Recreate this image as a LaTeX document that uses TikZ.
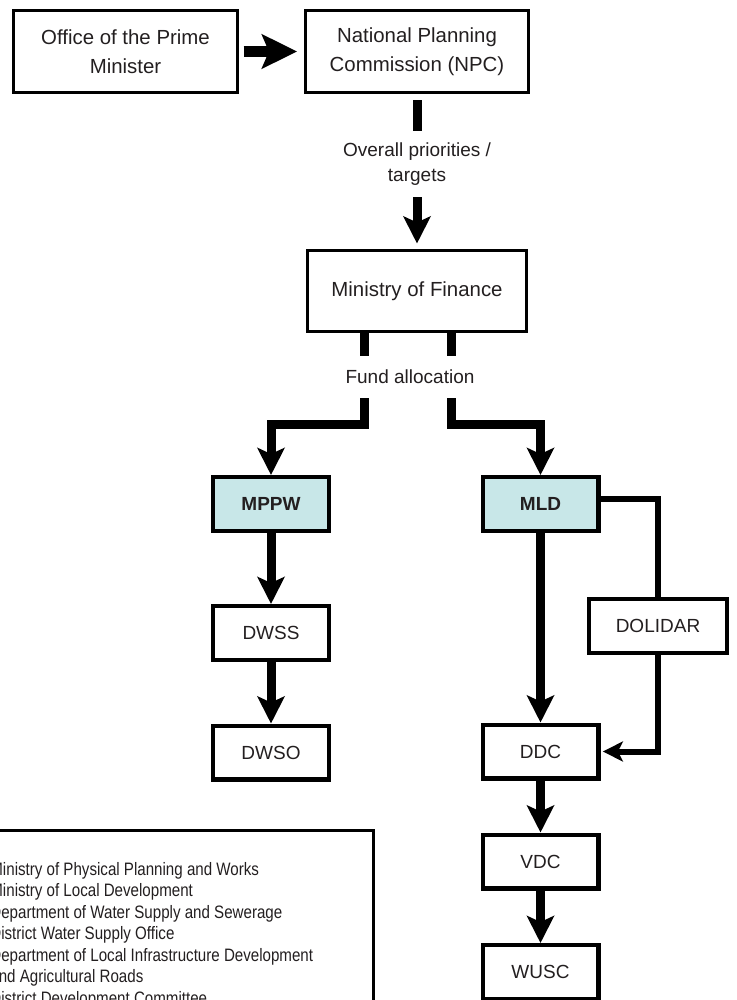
\documentclass[tikz,border=0pt]{standalone}
\usepackage{fontspec}
\setmainfont{Liberation Sans}
\newfontfamily\narrowsans[FakeStretch=0.84]{Liberation Sans}
\usetikzlibrary{arrows.meta,positioning}
\definecolor{boxtext}{HTML}{231F20}
\definecolor{minfill}{HTML}{C8E7E8}

\begin{document}
\begin{tikzpicture}[x=0.5pt,y=-0.5pt,>={Stealth[length=13.5pt,width=13.5pt,inset=3pt]},line join=miter,
    top box/.style={draw,line width=1.6pt,minimum width=111.8pt,minimum height=40.8pt,align=center,text=boxtext,font=\fontsize{10.2}{14.5}\selectfont},
    unit box/.style={draw,line width=2.2pt,minimum width=57.8pt,minimum height=26.8pt,text=boxtext,font=\fontsize{9.5}{12}\selectfont},
    ministry box/.style={unit box,fill=minfill,font=\fontsize{9.5}{12}\selectfont\bfseries},
    flow label/.style={fill=white,align=center,inner sep=1pt,text=boxtext,font=\fontsize{9.5}{12.5}\selectfont},
    flow/.style={->,line width=4.5pt},
    big flow/.style={-{Stealth[length=17.5pt,width=17pt,inset=3.5pt]},line width=5.5pt},
    side line/.style={line width=3pt},
    side flow/.style={side line,-{Stealth[length=10pt,width=10pt,inset=2.5pt]}}]
    \useasboundingbox (0,0) rectangle (736,1000);
    \clip (0,0) rectangle (736,1000);

    \node[top box] (pm) at (125.5,51.5) {Office of the Prime\\Minister};
    \node[top box] (npc) at (417,51.5) {National Planning\\Commission (NPC)};
    \node[top box,minimum width=109.3pt,minimum height=40.3pt] (mof) at (417,291) {Ministry of Finance};

    \node[ministry box] (mppw) at (271,504) {MPPW};
    \node[unit box] (dwss) at (271,633) {DWSS};
    \node[unit box] (dwso) at (271,752.5) {DWSO};

    \node[ministry box] (mld) at (540.5,504) {MLD};
    \node[unit box,minimum width=68.8pt] (dolidar) at (658,626) {DOLIDAR};
    \node[unit box] (ddc) at (540.5,751.5) {DDC};
    \node[unit box] (vdc) at (540.5,861.5) {VDC};
    \node[unit box] (wusc) at (540.5,972) {WUSC};

    \draw[big flow,shorten <=2.3pt,shorten >=3.3pt] (pm) -- (npc);
    \draw[flow,shorten <=3.3pt,shorten >=2.8pt] (npc) -- (mof);
    \draw[flow] ([xshift=-26.5pt]mof.south) -- ++(0,92) -| (mppw);
    \draw[flow] ([xshift=17pt]mof.south) -- ++(0,92) -| (mld);
    \draw[flow] (mppw) -- (dwss);
    \draw[flow] (dwss) -- (dwso);
    \draw[flow] (mld) -- (ddc);
    \draw[side line] ([yshift=2.5pt]mld.east) -| (dolidar.north);
    \draw[side flow,shorten >=1.2pt] (dolidar.south) |- (ddc.east);
    \draw[flow] (ddc) -- (vdc);
    \draw[flow] (vdc) -- (wusc);

    \node[flow label,minimum height=33pt] (targets) at (417,164) {Overall priorities /\\targets};
    \node[flow label,minimum height=21pt] (funds) at (410,377) {Fund allocation};

    \node[draw,line width=1.5pt,anchor=north east,minimum width=250pt,minimum height=125pt] (legend) at (374.5,829) {};
    \node[anchor=north west,inner sep=0pt,align=left,text=boxtext,font=\narrowsans\fontsize{9}{10.75}\selectfont] (abbrev) at (-10,862)
        {Ministry of Physical Planning and Works\\
         Ministry of Local Development\\
         Department of Water Supply and Sewerage\\
         District Water Supply Office\\
         Department of Local Infrastructure Development\\
         and Agricultural Roads\\
         District Development Committee};
\end{tikzpicture}
\end{document}
